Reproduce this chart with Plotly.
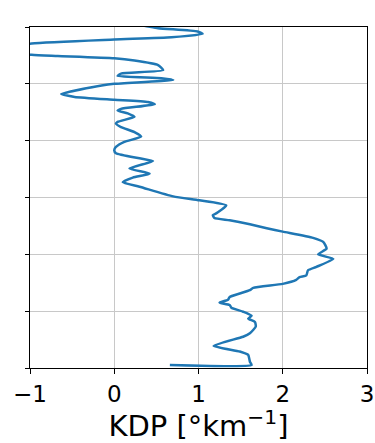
import plotly.graph_objects as go

# KDP profile (x) versus height index (y), bottom to top
kdp = [0.66, 1.63, 1.61, 1.59, 1.49, 1.18, 1.53, 1.61, 1.68, 1.67, 1.59, 1.63, 1.53, 1.39, 1.37,
       1.25, 1.35, 1.37, 1.49, 1.61, 1.65, 2.00, 2.16, 2.20, 2.28, 2.30, 2.40, 2.60, 2.42, 2.52,
       2.48, 2.36, 2.00, 1.81, 1.61, 1.37, 1.19, 1.17, 1.21, 1.33, 1.01, 0.70, 0.30, 0.10, 0.22,
       0.42, 0.18, 0.46, 0.30, 0.02, 0.00, 0.02, 0.12, 0.32, 0.24, 0.08, 0.02, 0.04, 0.24, 0.16,
       0.04, 0.08, 0.48, 0.40, 0.00, -0.47, -0.63, -0.15, 0.00, 0.70, 0.56, 0.04, 0.08, 0.58,
       0.52, 0.24, 0.00, -0.67, -0.98, -1.40, -0.98, 0.00, 0.68, 1.05, 0.99, 0.52, 0.32, -0.17]
height = [0.053, 0.053, 0.11, 0.23, 0.29, 0.39, 0.55, 0.61, 0.73, 0.81, 0.87, 0.92, 0.99, 1.06, 1.11,
          1.15, 1.20, 1.25, 1.31, 1.37, 1.41, 1.48, 1.55, 1.60, 1.63, 1.72, 1.78, 1.92, 2.00, 2.10,
          2.22, 2.29, 2.40, 2.46, 2.53, 2.60, 2.64, 2.69, 2.72, 2.86, 2.95, 3.02, 3.19, 3.27, 3.35,
          3.42, 3.51, 3.64, 3.69, 3.78, 3.83, 3.89, 3.98, 4.07, 4.15, 4.24, 4.30, 4.33, 4.42, 4.48,
          4.53, 4.56, 4.64, 4.68, 4.72, 4.77, 4.82, 4.97, 5.00, 5.07, 5.10, 5.14, 5.18, 5.24,
          5.33, 5.41, 5.45, 5.49, 5.51, 5.61, 5.71, 5.78, 5.82, 5.88, 5.92, 5.98, 6.03, 6.08]

x_ticks = [-1, 0, 1, 2, 3]
x_ticklabels = ["\u22121", "0", "1", "2", "3"]
y_ticks = [0, 1, 2, 3, 4, 5, 6]

fig = go.Figure()
fig.add_trace(go.Scatter(x=kdp, y=height, mode="lines",
                         line=dict(color="#1f77b4", width=2.5, shape="spline", smoothing=0.5),
                         showlegend=False))

fig.update_layout(
    width=375, height=443,
    margin=dict(l=30, r=8, t=27, b=75),
    paper_bgcolor="white", plot_bgcolor="white",
    font=dict(family="DejaVu Sans", color="black"),
)
fig.update_xaxes(range=[-1, 3], tickvals=x_ticks, ticktext=x_ticklabels, automargin=False,
                 tickfont=dict(size=23), ticks="outside", ticklen=5, tickcolor="black",
                 showline=True, linecolor="black", linewidth=1, mirror=True,
                 showgrid=True, gridcolor="#c8c8c8", gridwidth=1, zeroline=False,
                 title=dict(text="KDP [°km<sup>\u22121</sup>]", font=dict(size=29), standoff=6))
fig.update_yaxes(range=[0, 6], tickvals=y_ticks, showticklabels=False, automargin=False,
                 ticks="outside", ticklen=4, tickcolor="black",
                 showline=True, linecolor="black", linewidth=1, mirror=True,
                 showgrid=True, gridcolor="#c8c8c8", gridwidth=1, zeroline=False)

fig.write_html("out.html")
